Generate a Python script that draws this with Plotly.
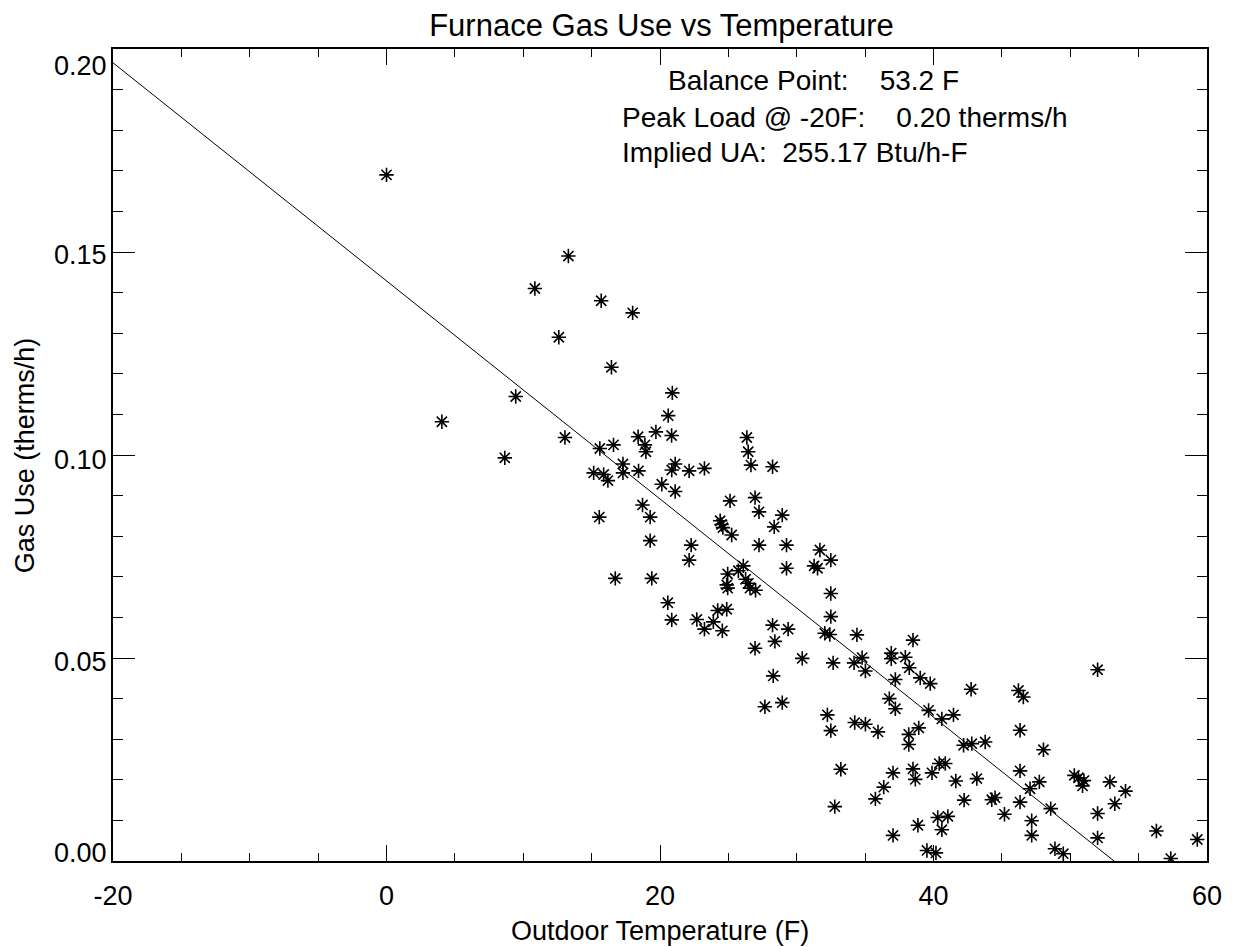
import plotly.graph_objects as go

# ---- data ----
temp_f = [
    0.0, 13.3, 10.85, 15.7, 18.0, 12.6, 16.45, 20.9, 20.6, 19.7, 20.85, 9.45, 4.05,
    13.05, 15.6, 16.6, 18.4, 18.9, 26.35, 26.45, 8.65,
    18.97, 26.65, 28.23, 15.15, 15.88, 16.19, 17.29, 17.29, 18.43, 20.86, 21.11,
    22.13, 23.25, 20.13, 21.11, 18.72, 15.56, 19.28, 25.12, 26.95, 27.24, 28.94,
    28.35, 24.4, 24.5, 24.6, 25.24, 19.28, 22.28, 22.13, 27.24, 29.25, 31.69,
    32.49, 29.25, 31.27, 31.52, 26.09, 25.73, 24.95, 24.88, 24.95, 26.26, 26.46,
    26.58, 26.99, 16.73, 19.4, 32.49, 20.57, 20.86, 22.69, 24.22, 24.88, 23.9,
    23.25, 24.56, 32.49, 28.23, 29.37, 32.05, 32.42, 28.4, 34.4,
    26.95, 30.4, 32.66, 34.19, 28.28, 27.67, 28.94, 32.24, 32.49, 34.24, 33.22, 32.78,
    34.78, 35.02, 36.91, 36.91, 37.94, 38.23, 37.21, 39.03, 39.76, 36.77, 37.21,
    39.64, 40.61, 41.46, 42.75, 46.21, 46.57, 52.0, 35.02, 35.94, 38.19, 38.19,
    38.92, 42.2, 42.8, 43.78, 46.33, 48.04, 37.04, 38.5, 38.67, 36.36, 35.75,
    39.89, 40.42, 40.86, 41.63, 43.17, 42.24, 44.26, 44.5, 45.19, 46.33, 46.33,
    47.06, 47.74, 48.57, 47.18, 47.18, 50.3, 50.6, 51.0, 50.9, 52.9, 54.04,
    53.26, 52.0, 52.0, 56.3, 59.29, 57.35, 39.52, 40.18, 38.86, 40.31, 41.05,
    40.61, 37.04, 48.88, 49.49, 38.5,
]
gas_use = [
    0.169, 0.149, 0.141, 0.138, 0.135, 0.129, 0.1216, 0.1153, 0.1097, 0.1057, 0.1048, 0.1144, 0.1082,
    0.1043, 0.1016, 0.1025, 0.1045, 0.1025, 0.1043, 0.1008, 0.0993,
    0.1008, 0.0975, 0.0971, 0.0956, 0.0952, 0.0937, 0.0978, 0.0956, 0.0961, 0.0963, 0.0978,
    0.0961, 0.0967, 0.0928, 0.091, 0.0877, 0.0847, 0.0847, 0.0887, 0.0895, 0.086, 0.0852,
    0.0823, 0.0838, 0.0829, 0.0821, 0.0803, 0.0789, 0.0778, 0.0741, 0.0778, 0.0778, 0.0766,
    0.0741, 0.0721, 0.0727, 0.0721, 0.0727, 0.0715, 0.0707, 0.068, 0.0672, 0.0694, 0.0684,
    0.0672, 0.0667, 0.0696, 0.0696, 0.0659, 0.0636, 0.0594, 0.0595, 0.0617, 0.062, 0.0589,
    0.0571, 0.0567, 0.0602, 0.0581, 0.0571, 0.0561, 0.0558, 0.0541, 0.0557,
    0.0524, 0.0499, 0.0488, 0.0488, 0.0456, 0.038, 0.039, 0.036, 0.0321, 0.0341, 0.0226, 0.0134,
    0.0501, 0.0468, 0.0512, 0.0498, 0.0502, 0.0476, 0.0447, 0.0451, 0.0437, 0.04, 0.0375,
    0.0371, 0.035, 0.036, 0.0423, 0.042, 0.0404, 0.0471, 0.0337, 0.0318, 0.0312, 0.0287,
    0.0328, 0.0285, 0.0289, 0.0293, 0.0322, 0.0274, 0.0217, 0.0227, 0.0201, 0.0182, 0.0153,
    0.0217, 0.024, 0.024, 0.0197, 0.0203, 0.015, 0.0151, 0.0156, 0.0115, 0.0222, 0.0145,
    0.0178, 0.0195, 0.0129, 0.0099, 0.0063, 0.0211, 0.0205, 0.0198, 0.0185, 0.0195, 0.0172,
    0.0141, 0.0117, 0.0057, 0.0074, 0.0053, 0.0006, 0.0026, 0.002, 0.0088, 0.0107, 0.011,
    0.0077, 0.0063, 0.003, 0.0018, 0.0544,
]

fit_temp = [-20.0, 53.2]
fit_gas = [0.1966, 0.0]

x_tickvals = [-20, 0, 20, 40, 60]
x_ticktext = ["-20", "0", "20", "40", "60"]
y_tickvals = [0.0, 0.05, 0.10, 0.15, 0.20]
y_ticktext = ["0.00", "0.05", "0.10", "0.15", "0.20"]

title_text = "Furnace Gas Use vs Temperature"
x_title = "Outdoor Temperature (F)"
y_title = "Gas Use (therms/h)"
info_lines = [
    "Balance Point:\u00a0\u00a0\u00a0\u00a053.2 F",
    "Peak Load @ -20F:\u00a0\u00a0\u00a0\u00a00.20 therms/h",
    "Implied UA:\u00a0\u00a0255.17 Btu/h-F",
]

# ---- styling ----
FONT = "Liberation Sans, Arial, Helvetica, sans-serif"
W, H = 1234, 947
ML, MR, MT, MB = 113, 24, 49, 86
PW, PH = W - ML - MR, H - MT - MB

fig = go.Figure()
fig.add_trace(go.Scatter(
    x=fit_temp, y=fit_gas, mode="lines",
    line=dict(color="black", width=1), hoverinfo="skip",
))
fig.add_trace(go.Scatter(
    x=temp_f, y=gas_use, mode="markers",
    marker=dict(symbol="asterisk-open", size=12, color="black",
                line=dict(color="black", width=1.6)),
))

axis_common = dict(
    showgrid=False, zeroline=False, showline=True, linecolor="black",
    linewidth=1.5, mirror="ticks", ticks="inside", tickcolor="black",
    tickwidth=1,
)

fig.update_xaxes(
    range=[-20, 60], tickmode="array", tickvals=x_tickvals, ticktext=x_ticktext,
    ticklen=16, tickfont=dict(family=FONT, size=27, color="black"),
    minor=dict(tick0=0, dtick=5, ticks="inside", ticklen=8, tickcolor="black",
               tickwidth=1, showgrid=False),
    ticklabelstandoff=10,
    **axis_common,
)
fig.update_yaxes(
    range=[0, 0.2], tickmode="array", tickvals=y_tickvals, showticklabels=False,
    ticklen=22,
    minor=dict(tick0=0, dtick=0.01, ticks="inside", ticklen=10, tickcolor="black",
               tickwidth=1, showgrid=False),
    **axis_common,
)

annotations = []
# y tick labels (IDL-style placement: end labels pulled inside the axis span)
y_label_shift = [8, -4, -5, -3, -17]
for v, t, s in zip(y_tickvals, y_ticktext, y_label_shift):
    annotations.append(dict(
        x=0, xref="paper", y=v, yref="y", text=t, showarrow=False,
        xanchor="right", yanchor="middle", xshift=-4, yshift=s,
        font=dict(family=FONT, size=27, color="black"),
    ))

# axis titles
annotations.append(dict(
    x=0.5, xref="paper", y=(MB - 70) / PH - MB / PH, yref="paper",
    text=x_title, showarrow=False, xanchor="center", yanchor="middle",
    font=dict(family=FONT, size=27, color="black"),
))
annotations.append(dict(
    x=(25 - ML) / PW, xref="paper", y=0.5, yref="paper", text=y_title,
    showarrow=False, textangle=-90, xanchor="center", yanchor="middle",
    font=dict(family=FONT, size=27, color="black"),
))

# info text block
info_pos = [(668, 80), (621, 117), (621, 152)]
for txt, (px, py) in zip(info_lines, info_pos):
    annotations.append(dict(
        x=(px - ML) / PW, xref="paper", y=(H - MB - py) / PH, yref="paper",
        text=txt, showarrow=False, xanchor="left", yanchor="middle",
        font=dict(family=FONT, size=28, color="black"),
    ))

fig.update_layout(
    width=W, height=H, autosize=False,
    margin=dict(l=ML, r=MR, t=MT, b=MB, pad=0),
    plot_bgcolor="white", paper_bgcolor="white", showlegend=False,
    font=dict(family=FONT, size=27, color="black"),
    title=dict(text=title_text, x=(ML + PW / 2) / W, xref="container",
               xanchor="center", y=1 - 25 / H, yref="container",
               yanchor="middle", font=dict(family=FONT, size=31, color="black")),
    annotations=annotations,
)

fig.write_html("out.html")
